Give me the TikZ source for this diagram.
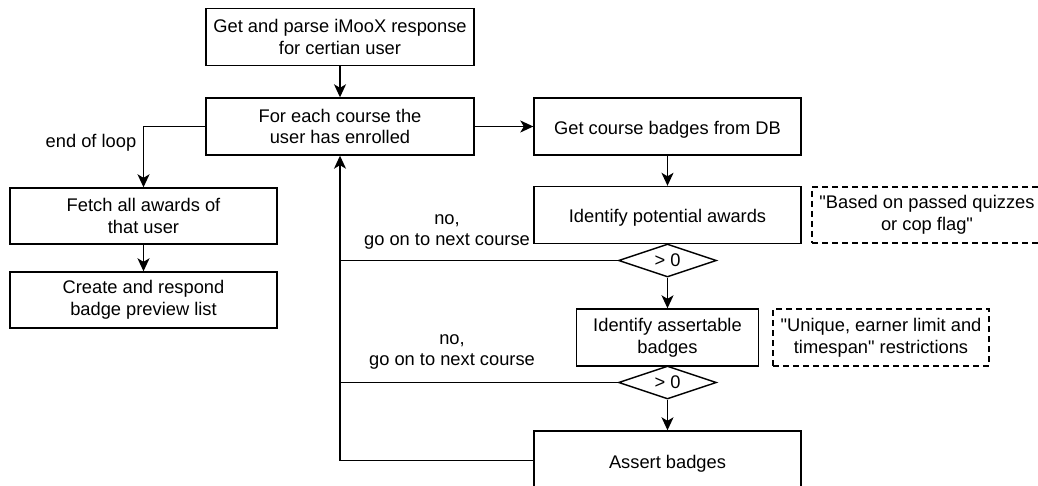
\documentclass[tikz,border=0pt]{standalone}
\usepackage{fontspec}
\setmainfont{Liberation Sans}[Ligatures=TeXOff]
\usetikzlibrary{arrows.meta,shapes.geometric}
\begin{document}
\begin{tikzpicture}[x=1pt,y=-1pt,
  every node/.style={font=\fontsize{18.3}{21.8}\selectfont},
  % a tall strut on the first line sets the text a little lower in its box
  low/.style={execute at begin node={\rule{0pt}{19.5pt}}},
  proc/.style={draw, line width=1.4pt, rectangle, align=center, inner sep=0pt, minimum height=57pt, low},
  note/.style={draw, line width=1.4pt, dash pattern=on 6pt off 4pt, rectangle, align=center, inner sep=0pt, minimum height=57pt, low},
  cond/.style={draw, line width=1.4pt, diamond, aspect=3, inner sep=0pt, minimum width=98pt, minimum height=33pt},
  lbl/.style={align=center, inner sep=0pt, low},
  wire/.style={line width=1.4pt},
  arr/.style={line width=1.4pt, -{Stealth[length=13pt, width=12pt, inset=3.5pt]}}]
\useasboundingbox (0,0) rectangle (1038,486);
\clip (0,0) rectangle (1038,486);

% main column
\node[proc, minimum width=268pt] (parse) at (340,37) {Get and parse iMooX response\\for certian user};
\node[proc, minimum width=268pt] (loop) at (340,126.5) {For each course the\\user has enrolled};

% right column
\node[proc, minimum width=267pt] (getb) at (667.5,126.5) {Get course badges from DB};
\node[proc, minimum width=267pt] (pot) at (667.5,215) {Identify potential awards};
\node[cond] (c1) at (667.5,260.5) {> 0};
\node[proc, minimum width=182pt] (ass) at (667.5,337.5) {Identify assertable\\badges};
\node[cond] (c2) at (667.5,382.5) {> 0};
\node[proc, minimum width=267pt, minimum height=59pt] (assert) at (667.5,460.5) {Assert badges};

% notes
\node[note, minimum width=230pt, minimum height=56pt] (n1) at (927,215) {"Based on passed quizzes\\or cop flag"};
\node[note, minimum width=216pt] (n2) at (881,337.5) {"Unique, earner limit and\\timespan" restrictions};

% left column
\node[proc, minimum width=267pt, minimum height=56pt] (fetch) at (143.5,216) {Fetch all awards of\\that user};
\node[proc, minimum width=267pt, minimum height=56pt] (resp) at (143.5,300) {Create and respond\\badge preview list};

% labels
\node[lbl] (eol) at (91,140) {end of loop};
\node[lbl] (no1) at (447,232) {no,\\go on to next course};
\node[lbl] (no2) at (452,352) {no,\\go on to next course};

% connectors
\draw[arr] (parse) -- (loop);
\draw[arr] (loop.west) -| (fetch.north);
\draw[arr] (fetch) -- (resp);
\draw[arr] (loop) -- (getb);
\draw[arr] (getb) -- (pot);
\draw[arr] (c1) -- (ass);
\draw[arr] (c2) -- (assert);
\draw[arr] (assert.west) -| (loop.south);
\draw[wire] (c1.west) -- (c1.west -| loop.south);
\draw[wire] (c2.west) -- (c2.west -| loop.south);
\end{tikzpicture}
\end{document}
